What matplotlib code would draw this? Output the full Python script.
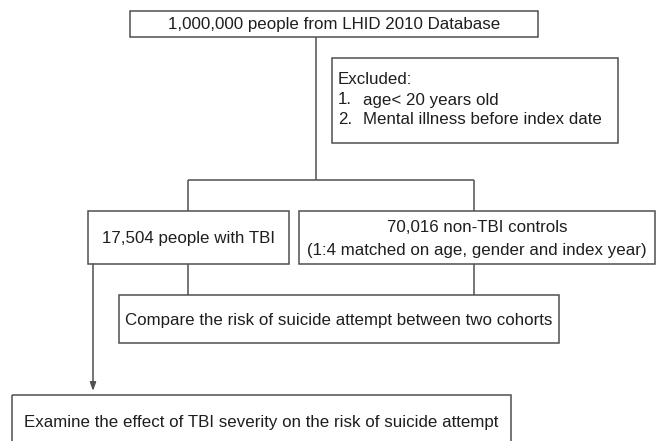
import matplotlib
matplotlib.use("Agg")
import matplotlib.pyplot as plt
from matplotlib.patches import Rectangle

plt.rcParams['font.family'] = ['Liberation Sans', 'DejaVu Sans']

# Text content
top_label = "1,000,000 people from LHID 2010 Database"
excluded_title = "Excluded:"
excluded_nums = ["1.", "2."]
excluded_items = ["age< 20 years old", "Mental illness before index date"]
tbi_label = "17,504 people with TBI"
control_labels = ["70,016 non-TBI controls", "(1:4 matched on age, gender and index year)"]
compare_label = "Compare the risk of suicide attempt between two cohorts"
severity_label = "Examine the effect of TBI severity on the risk of suicide attempt"

W, H = 660, 441
fig = plt.figure(figsize=(W / 100, H / 100), dpi=100)
ax = fig.add_axes([0, 0, 1, 1])
ax.set_xlim(0, W)
ax.set_ylim(H, 0)
ax.axis("off")

EC = "#505050"
TC = "#1e1e1e"
LW = 1.1
FS = 12.2

def box(x0, y0, x1, y1):
    ax.add_patch(Rectangle((x0, y0), x1 - x0, y1 - y0, fill=False,
                           edgecolor=EC, linewidth=LW))

def line(xs, ys):
    ax.plot(xs, ys, color=EC, linewidth=LW, solid_capstyle="butt")

# Boxes
box(130, 11, 538, 37)
box(332, 58, 618, 143)
box(88, 211, 289, 264)
box(299, 211, 655, 264)
box(119, 295, 559, 343)
box(12, 395, 511, 452)

# Connectors
line([316, 316], [37, 180])
line([188, 474], [180, 180])
line([188, 188], [180, 211])
line([474, 474], [180, 211])
line([188, 188], [264, 295])
line([474, 474], [264, 295])
ax.annotate("", xy=(93, 391), xytext=(93, 264),
            arrowprops=dict(arrowstyle="-|>,head_length=0.5,head_width=0.18",
                            color=EC, lw=LW, shrinkA=0, shrinkB=0))

# Texts
ax.text(334, 24.5, top_label, ha="center", va="center", fontsize=FS, color=TC)
ax.text(338, 80, excluded_title, ha="left", va="center", fontsize=FS, color=TC)
for i, (n, t) in enumerate(zip(excluded_nums, excluded_items)):
    y = 100 + 20 * i
    ax.text(338, y, n, ha="left", va="center", fontsize=FS, color=TC)
    ax.text(363, y, t, ha="left", va="center", fontsize=FS, color=TC)
ax.text(188.5, 238, tbi_label, ha="center", va="center", fontsize=FS, color=TC)
ax.text(477, 228, control_labels[0], ha="center", va="center", fontsize=FS, color=TC)
ax.text(477, 250, control_labels[1], ha="center", va="center", fontsize=FS, color=TC)
ax.text(339, 320, compare_label, ha="center", va="center", fontsize=FS, color=TC)
ax.text(261, 422, severity_label, ha="center", va="center", fontsize=FS, color=TC)

fig.savefig("out.png", dpi=100, facecolor="white")
